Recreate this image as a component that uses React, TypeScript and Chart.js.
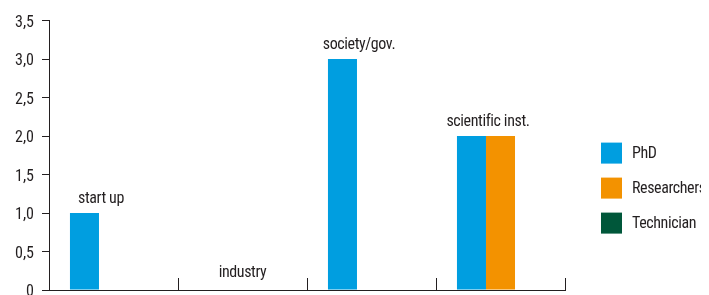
import React, { useEffect, useRef } from "react";
import { Chart, registerables } from "chart.js";

Chart.register(...registerables);

const categories = ["start up", "industry", "society/gov.", "scientific inst."];
const seriesNames = ["PhD", "Researchers", "Technician"];
const phd = [1, 0, 3, 2];
const researchers = [0, 0, 0, 2];
const technician = [0, 0, 0, 0];
const seriesColors = ["#009ee0", "#f39200", "#00573a"];
const yMin = 0;
const yMax = 3.5;
const yStep = 0.5;

const FONT = "'Roboto Condensed', 'DejaVu Sans Condensed', sans-serif";
const TEXT = "#231f20";

const categoryLabelPlugin = {
  id: "categoryLabels",
  afterDatasetsDraw(chart: any) {
    const ctx = chart.ctx;
    const xs = chart.scales.x;
    const ys = chart.scales.y;
    ctx.save();
    ctx.font = `16px ${FONT}`;
    (ctx as any).letterSpacing = "-0.4px";
    ctx.fillStyle = TEXT;
    ctx.textAlign = "center";
    ctx.textBaseline = "alphabetic";
    categories.forEach((cat, i) => {
      const vals = chart.data.datasets.map((d: any) => d.data[i] as number);
      const mx = Math.max(...vals);
      const cx = xs.getPixelForValue(i);
      let lx = cx;
      const first = vals.findIndex((v: number) => v > 0);
      if (first >= 0) {
        const el = chart.getDatasetMeta(first).data[i];
        lx = (cx + el.x) / 2 + 2;
      }
      const y = ys.getPixelForValue(mx) - (mx > 0 ? 10 : 13);
      ctx.fillText(cat, lx, y);
    });
    ctx.restore();
  },
};

const legendPlugin = {
  id: "sideLegend",
  afterDraw(chart: any) {
    const ctx = chart.ctx;
    const area = chart.chartArea;
    const x0 = area.right + 36;
    const y0 = area.top + 122;
    ctx.save();
    ctx.font = `16px ${FONT}`;
    (ctx as any).letterSpacing = "-0.4px";
    ctx.textAlign = "left";
    ctx.textBaseline = "middle";
    chart.data.datasets.forEach((d: any, i: number) => {
      const y = y0 + i * 35;
      ctx.fillStyle = d.backgroundColor;
      ctx.fillRect(x0, y, 21, 21);
      ctx.fillStyle = TEXT;
      ctx.fillText(d.label, x0 + 31, y + 11);
    });
    ctx.restore();
  },
};

export default function App() {
  const ref = useRef<HTMLCanvasElement>(null);
  useEffect(() => {
    if (!ref.current) return;
    const chart = new Chart(ref.current, {
      type: "bar",
      data: {
        labels: categories,
        datasets: [phd, researchers, technician].map((data, i) => ({
          label: seriesNames[i],
          data,
          backgroundColor: seriesColors[i],
          borderWidth: 0,
          categoryPercentage: 0.675,
          barPercentage: 1,
        })),
      },
      options: {
        animation: false,
        responsive: true,
        maintainAspectRatio: false,
        layout: { padding: { top: 8, right: 136, left: 0, bottom: 0 } },
        plugins: { legend: { display: false }, tooltip: { enabled: false } },
        scales: {
          x: {
            offset: true,
            ticks: { display: false },
            grid: {
              offset: true,
              drawOnChartArea: false,
              drawTicks: true,
              tickLength: -12,
              color: TEXT,
              lineWidth: 1,
            },
            border: { display: true, color: TEXT, width: 1 },
            afterFit: (s: any) => {
              s.height = 18;
            },
          },
          y: {
            min: yMin,
            max: yMax,
            ticks: {
              stepSize: yStep,
              padding: 8,
              labelOffset: 2,
              color: TEXT,
              font: { family: FONT, size: 16 },
              callback: (v: any) => (Number(v) === 0 ? "0" : Number(v).toFixed(1).replace(".", ",")),
            },
            grid: {
              drawOnChartArea: false,
              drawTicks: true,
              tickLength: 7,
              color: TEXT,
              lineWidth: 1,
            },
            border: { display: true, color: TEXT, width: 1 },
            afterFit: (s: any) => {
              s.width = 41;
            },
          },
        },
      },
      plugins: [categoryLabelPlugin, legendPlugin],
    });
    return () => chart.destroy();
  }, []);
  return (
    <div style={{ position: "relative", width: 693, height: 305, marginTop: -5 }}>
      <canvas ref={ref} />
    </div>
  );
}
